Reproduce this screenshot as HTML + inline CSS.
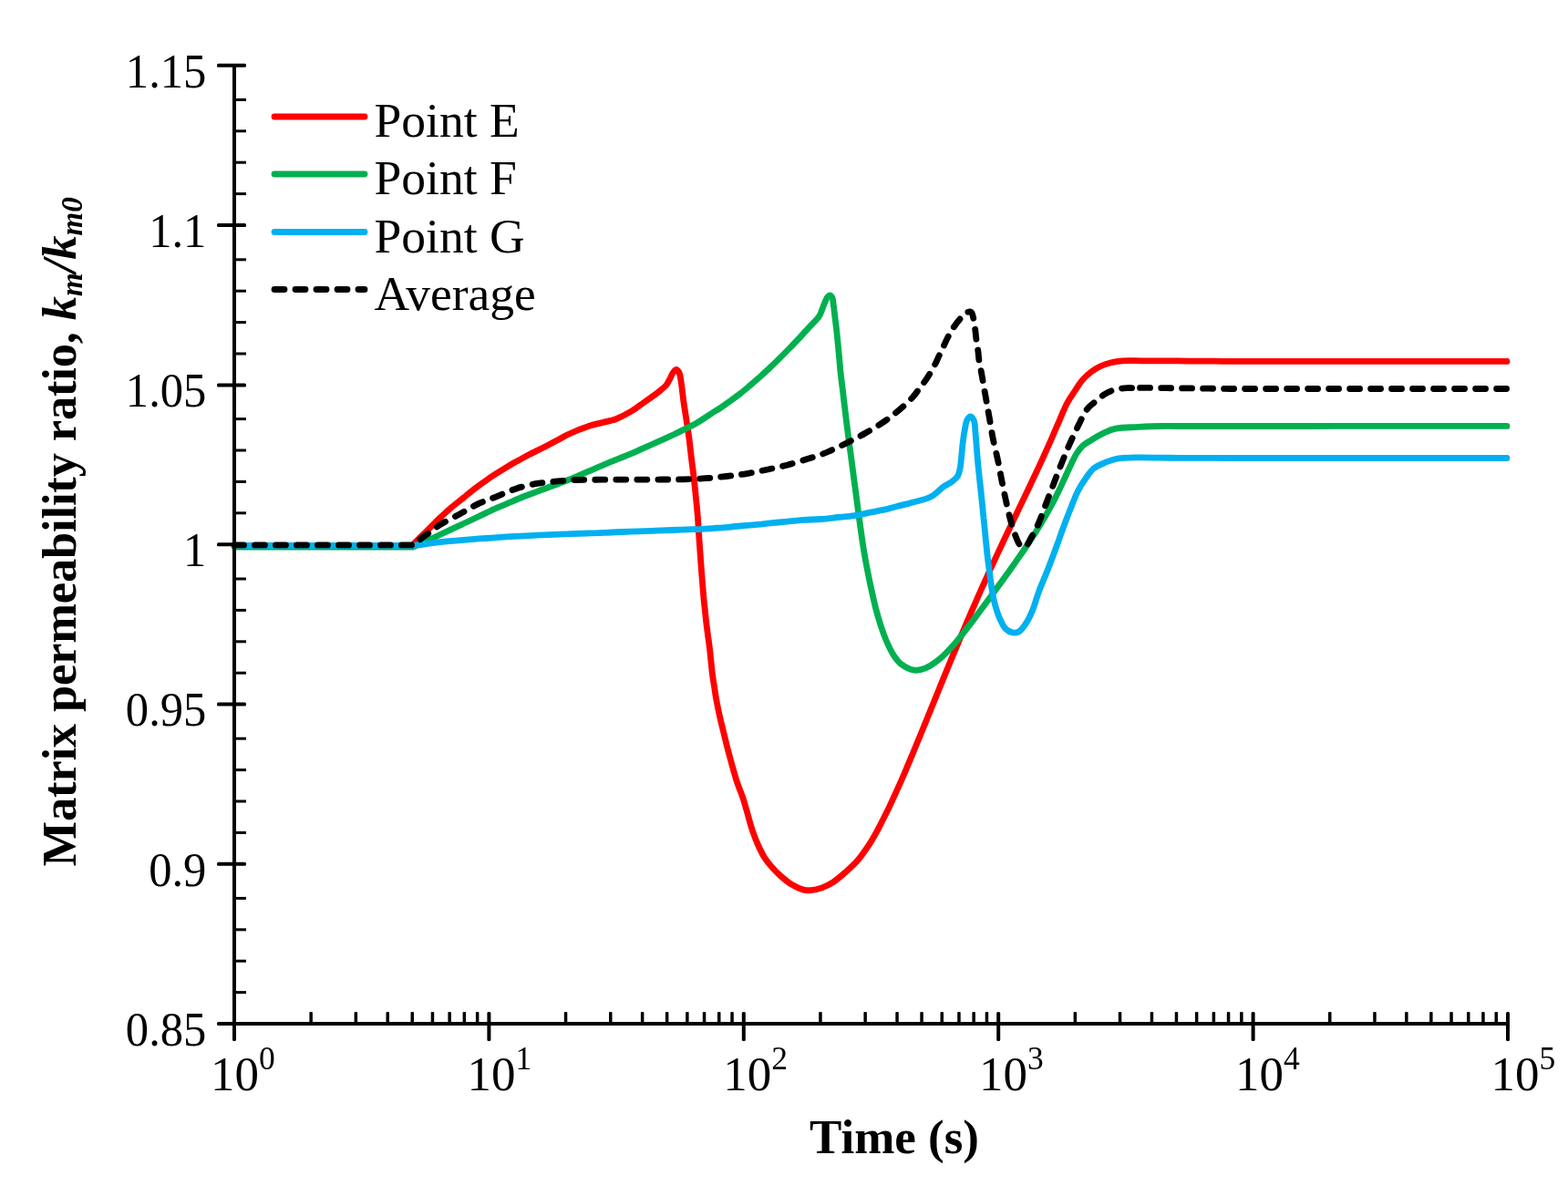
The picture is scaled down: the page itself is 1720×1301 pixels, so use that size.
<!DOCTYPE html>
<html><head><meta charset="utf-8"><title>Matrix permeability ratio</title>
<style>html,body{margin:0;padding:0;background:#fff;overflow:hidden}svg{display:block}</style>
</head><body>
<svg width="1720" height="1301" viewBox="0 0 1720 1301">
<rect width="1720" height="1301" fill="#fff"/>
<path d="M257.0 598.5C265.1 598.5 273.2 598.5 281.4 598.5C289.5 598.5 297.6 598.5 305.8 598.5C313.9 598.5 322.0 598.5 330.1 598.5C338.2 598.5 346.4 598.5 354.5 598.5C362.6 598.5 370.8 598.5 378.9 598.5C387.0 598.5 395.1 598.5 403.2 598.5C411.4 598.5 419.5 598.5 427.6 598.5C435.8 598.5 443.9 598.5 452.0 598.5C455.3 595.2 458.7 591.8 462.0 588.5C465.4 585.2 468.8 581.9 472.1 578.6C475.3 575.5 478.1 572.5 481.4 569.3C485.1 565.7 489.1 561.9 493.3 558.2C497.8 554.3 503.1 550.3 507.9 546.5C512.5 542.8 516.9 539.0 521.5 535.5C526.2 531.9 531.0 528.5 535.8 525.2C540.4 522.0 545.1 519.1 549.8 516.2C554.4 513.3 559.0 510.5 563.7 507.8C568.3 505.2 572.9 502.6 577.5 500.2C582.2 497.7 587.5 495.1 591.6 493.1C594.8 491.5 597.0 490.5 600.0 489.0C603.6 487.2 607.8 484.8 611.6 482.8C615.5 480.7 618.7 478.7 623.3 476.5C629.6 473.5 638.7 469.7 646.5 467.2C654.2 464.7 664.6 462.8 669.8 461.4C672.4 460.7 673.2 460.6 675.6 459.7C679.9 458.0 687.7 454.1 693.0 450.9C697.8 448.0 702.5 444.2 706.1 441.7C708.6 440.0 710.2 438.8 712.3 437.3C714.3 435.9 716.4 434.5 718.4 433.0C720.5 431.4 722.6 429.8 724.6 428.1C726.7 426.4 729.0 424.6 730.7 422.6C732.3 420.7 733.2 418.6 734.4 416.4C735.7 414.1 736.7 411.0 738.1 409.1C739.2 407.6 740.6 405.5 741.8 405.5C742.9 405.5 744.1 407.1 744.9 408.5C745.9 410.3 746.2 413.1 746.7 416.0C747.4 419.9 748.0 425.5 748.6 430.0C749.1 434.2 749.5 438.2 750.1 442.3C750.7 446.4 751.4 450.6 752.0 454.6C752.6 458.5 753.2 462.0 753.8 466.0C754.5 470.4 755.1 474.9 755.8 480.0C756.6 486.1 757.3 493.1 758.1 500.0C759.0 507.4 760.1 515.3 761.0 523.0C761.9 530.7 762.7 538.7 763.4 546.0C764.1 552.6 764.7 558.5 765.2 565.0C765.8 571.8 766.1 579.4 766.6 586.0C767.0 592.0 767.4 597.3 767.8 603.0C768.2 608.7 768.6 614.3 769.0 620.0C769.4 625.8 769.9 631.7 770.4 637.5C770.9 643.3 771.3 649.4 771.8 655.0C772.3 660.2 772.9 665.0 773.4 670.0C773.9 675.0 774.4 680.2 775.0 685.0C775.5 689.4 776.1 693.3 776.6 697.5C777.2 701.7 777.8 705.6 778.3 710.0C778.9 714.8 779.4 720.0 779.9 725.0C780.4 730.0 780.9 735.2 781.5 740.0C782.1 744.5 782.8 748.7 783.5 753.0C784.2 757.3 784.6 761.1 785.5 766.0C786.6 772.4 788.5 781.3 790.0 788.0C791.3 793.8 792.6 798.7 793.9 804.0C795.2 809.3 796.4 814.4 797.8 820.0C799.4 826.2 801.3 833.1 803.1 839.6C805.0 846.1 806.8 853.1 808.9 859.2C810.8 864.8 813.1 869.9 814.8 874.9C816.3 879.4 817.3 883.0 818.7 887.9C820.5 894.0 822.5 902.4 824.6 908.8C826.5 914.4 828.2 919.3 830.5 924.5C832.8 929.8 835.5 935.6 838.3 940.2C840.8 944.2 843.3 947.2 846.2 950.6C849.3 954.2 852.9 957.8 856.6 961.1C860.3 964.4 864.2 967.7 868.4 970.2C872.5 972.7 877.5 975.1 881.4 976.1C884.3 976.8 886.4 976.9 889.3 976.7C892.8 976.4 897.1 975.5 901.0 974.1C905.3 972.6 909.9 970.3 914.1 967.6C918.6 964.7 922.8 960.8 927.1 957.1C931.5 953.2 936.0 949.3 940.2 944.6C944.8 939.3 949.3 932.8 953.3 926.7C957.2 920.7 961.0 913.7 964.0 908.1C966.4 903.7 968.0 900.1 970.0 896.2C972.0 892.2 974.0 888.3 976.0 884.2C978.0 879.9 980.0 875.4 982.0 871.0C984.0 866.6 986.0 862.3 988.0 857.8C990.0 853.2 992.0 848.5 994.0 843.8C995.9 839.2 997.9 834.6 999.9 829.9C1001.9 825.1 1003.9 820.2 1005.9 815.3C1007.9 810.5 1009.9 805.7 1011.9 800.8C1013.9 795.9 1015.9 790.9 1017.9 786.0C1019.9 781.1 1021.9 776.1 1023.9 771.2C1025.9 766.3 1027.9 761.4 1029.9 756.5C1031.9 751.5 1033.8 746.8 1035.9 741.7C1038.2 736.2 1040.6 730.2 1043.0 724.4C1045.5 718.4 1048.1 712.3 1050.7 706.2C1053.2 700.1 1055.7 694.0 1058.3 688.0C1060.8 682.0 1063.4 676.2 1066.0 670.2C1068.6 664.3 1071.3 657.9 1073.7 652.5C1075.8 647.8 1077.6 643.9 1079.6 639.5C1081.5 635.2 1083.3 631.3 1085.4 626.6C1087.9 621.0 1091.0 614.5 1093.8 608.4C1096.6 602.4 1099.5 596.3 1102.3 590.3C1105.1 584.4 1107.9 578.6 1110.7 572.7C1113.5 566.8 1116.3 561.0 1119.2 554.9C1122.2 548.6 1125.5 541.8 1128.5 535.5C1131.4 529.5 1134.1 523.8 1136.9 517.8C1139.7 511.7 1142.6 505.6 1145.4 499.4C1148.2 493.2 1151.0 487.0 1153.8 480.6C1156.6 474.1 1159.5 467.3 1162.3 460.8C1165.1 454.4 1167.7 447.6 1170.7 442.0C1173.4 437.0 1176.5 432.8 1179.3 428.5C1181.9 424.6 1184.0 420.8 1186.9 417.4C1189.8 414.0 1193.3 410.7 1196.7 408.1C1199.9 405.7 1203.0 403.7 1206.6 402.0C1210.4 400.2 1214.8 398.7 1218.9 397.7C1223.0 396.7 1226.5 396.2 1231.2 395.8C1237.2 395.3 1245.1 395.8 1252.1 395.8C1259.1 395.8 1266.2 395.8 1273.0 395.8C1279.5 395.8 1285.8 395.9 1292.2 395.9C1298.7 396.0 1305.1 396.1 1311.5 396.1C1317.9 396.2 1324.3 396.2 1330.8 396.2C1337.2 396.3 1343.3 396.4 1350.0 396.4C1357.4 396.4 1365.5 396.4 1373.3 396.4C1381.1 396.4 1388.8 396.4 1396.6 396.4C1404.4 396.4 1412.2 396.4 1419.9 396.4C1427.7 396.4 1435.5 396.4 1443.2 396.4C1451.0 396.4 1458.8 396.4 1466.5 396.4C1474.3 396.4 1482.1 396.4 1489.8 396.4C1497.6 396.4 1505.4 396.4 1513.2 396.4C1520.9 396.4 1528.7 396.4 1536.5 396.4C1544.2 396.4 1552.0 396.4 1559.8 396.4C1567.5 396.4 1575.3 396.4 1583.1 396.4C1590.8 396.4 1598.6 396.4 1606.4 396.4C1614.2 396.4 1621.9 396.4 1629.7 396.4C1637.5 396.4 1645.2 396.4 1653.0 396.4" fill="none" stroke="#ff0000" stroke-width="6.8" stroke-linecap="round" stroke-linejoin="round"/>
<path d="M257.0 600.0C265.2 600.0 273.4 600.0 281.6 600.0C289.8 600.0 297.9 600.0 306.1 600.0C314.3 600.0 322.5 600.0 330.7 600.0C338.9 600.0 347.1 600.0 355.2 600.0C363.4 600.0 371.6 600.0 379.8 600.0C388.0 600.0 396.2 600.0 404.4 600.0C412.6 600.0 420.8 600.0 428.9 600.0C437.1 600.0 445.3 600.0 453.5 600.0C459.8 597.1 466.3 594.1 472.3 591.3C477.8 588.8 482.8 586.4 488.0 584.0C493.2 581.6 498.1 579.3 503.7 576.7C510.2 573.7 517.7 570.1 524.6 566.8C531.6 563.5 539.2 559.8 545.6 556.9C550.9 554.5 555.4 552.8 560.3 550.7C565.2 548.6 570.3 546.4 575.0 544.5C579.3 542.8 583.3 541.4 587.5 539.9C591.7 538.3 595.2 537.0 600.0 535.2C606.6 532.8 616.9 529.1 623.3 526.5C627.9 524.7 631.0 523.2 634.9 521.5C638.8 519.9 642.6 518.2 646.5 516.6C650.4 514.9 654.3 513.3 658.1 511.6C662.0 510.0 665.2 508.6 669.8 506.7C676.2 504.1 686.6 500.1 693.0 497.4C697.6 495.5 700.8 493.9 704.6 492.2C708.5 490.5 712.4 488.7 716.3 487.0C720.2 485.3 724.0 483.5 727.9 481.8C731.8 480.0 735.6 478.3 739.5 476.5C743.4 474.6 747.3 472.6 751.1 470.7C755.0 468.8 758.6 467.3 762.8 464.9C768.1 461.9 774.9 457.0 780.0 453.8C784.0 451.3 787.2 449.4 790.8 447.1C794.4 444.7 797.9 442.2 801.5 439.6C805.1 437.0 808.7 434.3 812.3 431.5C815.9 428.7 819.4 425.7 823.0 422.7C826.6 419.6 830.2 416.5 833.8 413.3C837.4 410.0 841.0 406.7 844.6 403.3C848.2 399.9 851.7 396.4 855.3 392.9C858.9 389.3 862.5 385.7 866.1 382.0C869.7 378.3 873.2 374.6 876.8 370.8C880.4 366.9 884.0 362.9 887.6 359.0C891.2 355.1 896.1 350.7 898.4 347.2C900.0 344.8 900.4 343.0 901.4 340.7C902.4 338.2 903.3 335.3 904.4 332.8C905.4 330.4 906.3 327.6 907.5 326.0C908.3 324.9 909.4 323.7 910.3 323.8C911.2 323.9 912.3 325.3 913.0 326.6C913.9 328.5 913.9 331.6 914.3 334.6C914.8 338.3 915.3 342.8 915.8 346.9C916.3 351.0 916.8 355.1 917.3 359.2C917.8 363.3 918.2 367.2 918.6 371.5C919.1 376.3 919.6 381.2 920.1 386.9C920.8 393.8 921.4 402.8 922.2 410.0C922.9 416.4 923.6 422.0 924.4 428.0C925.1 434.0 925.8 440.1 926.5 446.0C927.2 451.8 927.9 457.6 928.6 463.4C929.4 469.1 930.1 475.0 930.8 480.7C931.5 486.2 932.2 491.4 933.0 496.8C933.7 502.2 934.4 507.5 935.1 512.9C935.8 518.3 936.5 523.7 937.2 529.0C938.0 534.4 938.7 539.8 939.4 545.2C940.1 550.6 940.8 556.0 941.5 561.4C942.3 566.7 942.9 571.8 943.7 577.5C944.6 584.0 945.6 591.3 946.7 598.4C947.9 605.9 949.3 613.8 950.7 621.5C952.2 629.2 953.7 636.8 955.4 644.5C957.1 652.2 958.8 660.4 960.7 667.6C962.4 674.1 964.1 680.0 966.1 686.0C968.0 691.8 969.9 697.5 972.3 703.0C974.6 708.3 977.0 713.8 980.0 718.3C982.7 722.4 985.4 726.3 989.2 729.1C993.1 732.0 998.5 734.7 1003.0 735.2C1007.1 735.7 1011.1 734.6 1015.3 732.9C1020.3 730.9 1025.8 726.9 1030.7 722.9C1036.1 718.6 1041.4 712.6 1046.0 707.5C1050.1 703.0 1053.3 698.6 1057.0 694.0C1060.8 689.2 1065.0 683.7 1068.5 679.1C1071.5 675.1 1074.1 671.6 1076.9 667.8C1079.7 664.0 1082.6 660.1 1085.4 656.3C1088.2 652.5 1091.0 648.7 1093.8 644.8C1096.6 640.9 1099.5 636.9 1102.3 633.0C1105.1 629.1 1107.9 625.2 1110.7 621.3C1113.5 617.3 1116.4 613.3 1119.2 609.2C1122.0 605.2 1124.9 600.9 1127.5 597.0C1129.8 593.5 1131.8 590.5 1134.0 587.0C1136.4 583.2 1139.0 579.2 1141.5 575.0C1144.3 570.4 1147.2 565.4 1150.0 560.4C1152.9 555.2 1155.7 549.9 1158.5 544.4C1161.4 538.7 1164.2 532.6 1166.9 526.8C1169.5 521.1 1172.1 515.2 1174.6 510.0C1176.8 505.5 1178.6 501.2 1181.0 497.5C1183.1 494.3 1185.1 491.4 1187.7 489.0C1190.2 486.7 1192.8 485.3 1196.1 483.3C1200.4 480.6 1206.6 476.9 1211.5 474.6C1215.7 472.7 1218.9 471.2 1223.8 470.2C1230.5 468.8 1240.2 468.9 1248.4 468.4C1256.6 468.0 1264.9 467.6 1273.0 467.5C1281.0 467.4 1288.8 467.5 1296.8 467.5C1304.7 467.5 1312.6 467.5 1320.5 467.5C1328.4 467.5 1336.3 467.5 1344.2 467.5C1352.2 467.5 1360.1 467.5 1368.0 467.5C1375.9 467.5 1383.8 467.5 1391.8 467.5C1399.7 467.5 1407.6 467.5 1415.5 467.5C1423.4 467.5 1431.3 467.5 1439.2 467.5C1447.2 467.5 1455.1 467.5 1463.0 467.4C1470.9 467.4 1478.8 467.4 1486.8 467.4C1494.7 467.4 1502.6 467.4 1510.5 467.4C1518.4 467.4 1526.3 467.4 1534.2 467.4C1542.2 467.4 1550.1 467.4 1558.0 467.4C1565.9 467.4 1573.8 467.4 1581.8 467.4C1589.7 467.4 1597.6 467.4 1605.5 467.4C1613.4 467.4 1621.3 467.4 1629.2 467.4C1637.2 467.4 1645.1 467.4 1653.0 467.4" fill="none" stroke="#00b050" stroke-width="6.8" stroke-linecap="round" stroke-linejoin="round"/>
<path d="M257.0 598.3C265.2 598.3 273.5 598.3 281.7 598.3C289.9 598.3 298.1 598.3 306.4 598.3C314.6 598.3 322.8 598.3 331.1 598.3C339.3 598.3 347.5 598.3 355.8 598.3C364.0 598.3 372.2 598.3 380.4 598.3C388.7 598.3 396.9 598.3 405.1 598.3C413.4 598.3 421.6 598.3 429.8 598.3C438.0 598.3 446.3 598.3 454.5 598.3C458.5 597.8 462.1 597.4 466.5 596.8C472.0 596.1 479.3 595.0 485.1 594.4C490.3 593.8 494.9 593.5 499.8 593.1C504.6 592.7 509.2 592.2 514.4 591.8C520.2 591.3 526.8 590.9 533.0 590.5C539.2 590.1 545.4 589.6 551.6 589.2C557.8 588.8 564.0 588.5 570.2 588.2C576.4 587.8 582.6 587.4 588.8 587.1C595.0 586.8 601.2 586.6 607.4 586.4C613.6 586.1 619.8 585.8 626.0 585.6C632.2 585.4 638.4 585.2 644.6 585.0C650.9 584.7 657.1 584.5 663.3 584.3C669.5 584.1 675.7 583.8 681.9 583.5C688.1 583.3 694.3 583.0 700.5 582.8C706.7 582.6 712.9 582.4 719.1 582.1C725.3 581.9 731.7 581.7 737.7 581.5C743.3 581.3 748.5 581.1 754.0 580.9C759.4 580.7 765.0 580.6 770.2 580.3C775.0 580.0 779.5 579.6 784.1 579.3C788.7 579.0 793.4 578.7 798.0 578.3C802.7 577.9 807.3 577.5 812.0 577.0C816.7 576.6 821.3 576.2 826.0 575.8C830.7 575.4 835.3 574.9 840.0 574.4C844.7 573.9 849.3 573.5 854.0 573.0C858.7 572.6 863.3 572.1 868.0 571.7C872.6 571.3 876.9 570.8 881.9 570.4C887.5 570.0 893.9 570.0 900.0 569.5C906.2 569.0 912.4 568.2 918.6 567.5C924.8 566.9 931.0 566.5 937.2 565.6C943.4 564.6 949.6 563.1 955.8 561.9C962.0 560.6 968.7 559.4 974.4 558.1C979.4 556.9 983.7 555.6 988.3 554.4C993.0 553.2 997.3 552.1 1002.3 550.7C1008.1 549.1 1015.4 548.0 1020.9 545.1C1026.2 542.3 1030.6 537.0 1034.9 534.0C1038.2 531.7 1041.5 530.5 1044.2 528.4C1046.7 526.4 1049.2 524.4 1050.7 521.9C1052.1 519.5 1052.5 516.8 1053.1 513.8C1053.9 510.2 1054.1 505.8 1054.6 501.5C1055.1 496.7 1055.5 491.2 1056.1 486.1C1056.7 481.0 1057.5 475.3 1058.4 470.7C1059.1 467.0 1059.4 463.2 1060.7 460.8C1061.7 459.0 1063.3 456.8 1064.6 456.9C1065.9 457.0 1067.5 459.4 1068.4 461.5C1069.7 464.6 1069.5 469.8 1070.0 474.6C1070.6 480.4 1071.0 487.6 1071.5 493.8C1072.0 499.7 1072.4 505.0 1073.0 511.0C1073.6 517.5 1074.4 524.4 1075.2 531.5C1076.0 539.3 1077.1 549.2 1077.8 556.1C1078.3 561.0 1078.6 564.6 1079.0 568.8C1079.5 573.0 1079.9 577.3 1080.3 581.5C1080.7 585.7 1081.1 589.9 1081.5 594.1C1082.0 598.4 1082.3 602.1 1082.8 606.8C1083.5 612.8 1084.5 620.5 1085.4 627.1C1086.2 633.4 1086.9 639.7 1087.9 645.7C1088.9 651.5 1089.8 657.2 1091.3 662.6C1092.7 667.8 1094.3 673.1 1096.4 677.8C1098.3 682.1 1100.3 687.0 1103.1 689.7C1105.3 691.9 1108.2 693.4 1110.7 693.9C1113.0 694.3 1115.3 694.2 1117.5 693.0C1120.5 691.3 1123.5 686.7 1126.0 682.9C1128.6 678.9 1130.6 674.4 1132.7 669.4C1135.2 663.4 1136.9 656.0 1139.5 649.1C1142.3 641.7 1145.8 633.8 1148.8 626.2C1151.7 618.8 1154.9 610.4 1157.2 604.2C1158.9 599.7 1160.0 596.3 1161.5 592.4C1162.9 588.4 1164.0 585.0 1165.7 580.5C1168.0 574.3 1171.2 565.7 1174.1 558.5C1176.9 551.6 1179.5 544.2 1182.6 538.2C1185.2 533.1 1188.0 528.9 1191.0 524.7C1193.8 520.7 1196.5 516.5 1200.0 513.7C1203.4 511.0 1207.5 509.5 1211.5 507.8C1215.5 506.1 1218.9 504.5 1223.8 503.5C1230.5 502.1 1240.2 502.1 1248.4 501.9C1256.6 501.7 1265.3 502.1 1273.0 502.2C1279.8 502.3 1285.8 502.2 1292.2 502.3C1298.7 502.3 1305.1 502.3 1311.5 502.4C1317.9 502.4 1324.3 502.4 1330.8 502.4C1337.2 502.5 1343.3 502.5 1350.0 502.5C1357.4 502.5 1365.5 502.5 1373.3 502.5C1381.1 502.5 1388.8 502.5 1396.6 502.5C1404.4 502.5 1412.2 502.5 1419.9 502.5C1427.7 502.5 1435.5 502.5 1443.2 502.5C1451.0 502.5 1458.8 502.5 1466.5 502.5C1474.3 502.5 1482.1 502.5 1489.8 502.5C1497.6 502.5 1505.4 502.5 1513.2 502.5C1520.9 502.5 1528.7 502.5 1536.5 502.5C1544.2 502.5 1552.0 502.5 1559.8 502.5C1567.5 502.5 1575.3 502.5 1583.1 502.5C1590.8 502.5 1598.6 502.5 1606.4 502.5C1614.2 502.5 1621.9 502.5 1629.7 502.5C1637.5 502.5 1645.2 502.5 1653.0 502.5" fill="none" stroke="#00b0f0" stroke-width="6.8" stroke-linecap="round" stroke-linejoin="round"/>
<path d="M257.0 597.9C265.2 597.9 273.5 597.9 281.7 597.9C289.9 597.9 298.1 597.9 306.4 597.9C314.6 597.9 322.8 597.9 331.1 597.9C339.3 597.9 347.5 597.9 355.8 597.9C364.0 597.9 372.2 597.9 380.4 597.9C388.7 597.9 396.9 597.9 405.1 597.9C413.4 597.9 421.6 597.9 429.8 597.9C438.0 597.9 446.3 597.9 454.5 597.9C457.0 595.5 459.1 593.1 461.9 590.8C465.0 588.2 468.9 585.8 472.4 583.2C475.8 580.7 478.6 578.3 482.8 575.7C488.5 572.1 496.7 568.0 503.7 564.2C510.7 560.4 517.5 556.0 524.6 552.7C531.5 549.4 538.6 547.1 545.6 544.3C552.6 541.5 559.5 538.2 566.5 535.9C573.4 533.7 580.4 532.0 587.4 530.7C594.4 529.4 601.4 528.9 608.4 528.2C615.4 527.5 622.3 526.8 629.3 526.5C636.3 526.2 643.2 526.4 650.2 526.3C657.2 526.2 664.1 526.1 671.1 526.1C678.1 526.1 685.1 526.1 692.0 526.1C699.0 526.1 706.3 526.1 713.0 526.1C719.3 526.1 725.1 526.0 731.1 526.0C737.2 525.9 742.8 526.0 749.3 525.8C756.8 525.6 765.5 525.3 773.5 524.7C781.4 524.2 789.2 523.4 796.9 522.5C804.4 521.7 811.7 520.8 819.0 519.6C826.4 518.4 833.7 516.8 841.1 515.2C848.5 513.6 855.9 512.1 863.3 510.2C870.7 508.3 878.8 505.6 885.4 503.6C890.8 501.9 895.8 500.4 900.0 498.9C903.2 497.7 905.1 497.0 908.5 495.5C913.8 493.2 922.0 489.3 928.7 486.0C935.5 482.6 942.4 479.1 949.0 475.3C955.6 471.5 962.3 467.7 968.5 463.4C974.7 459.2 980.6 454.6 986.2 449.9C991.6 445.3 997.3 440.0 1001.4 435.5C1004.6 432.0 1006.5 428.7 1009.0 425.4C1011.6 422.0 1014.2 419.0 1016.7 415.2C1019.7 410.7 1023.2 404.6 1025.5 400.1C1027.3 396.7 1028.3 394.1 1029.8 390.9C1031.4 387.5 1033.1 383.9 1034.8 380.4C1036.4 376.9 1037.9 373.4 1039.7 370.0C1041.6 366.5 1043.6 362.9 1045.8 359.5C1048.1 356.1 1050.7 352.6 1053.2 349.7C1055.4 347.1 1057.6 343.9 1060.0 342.8C1061.8 342.0 1064.3 341.7 1065.5 342.5C1066.7 343.3 1066.7 345.2 1067.3 347.2C1068.3 350.7 1069.2 357.4 1069.8 362.0C1070.3 365.9 1070.5 369.2 1071.0 373.0C1071.5 377.0 1072.4 381.3 1072.9 385.3C1073.4 389.1 1073.5 392.7 1074.1 396.4C1074.7 400.1 1075.5 403.4 1076.3 407.5C1077.2 412.6 1078.3 418.8 1079.3 424.5C1080.3 430.2 1081.3 435.8 1082.3 441.5C1083.3 447.1 1084.2 452.3 1085.3 458.4C1086.6 465.6 1087.8 474.2 1089.4 482.0C1091.0 489.8 1093.1 497.7 1094.7 505.4C1096.2 512.8 1097.5 520.1 1098.9 527.3C1100.3 534.2 1101.6 540.7 1103.1 547.6C1104.7 554.8 1106.3 562.6 1108.2 569.6C1110.0 576.1 1112.0 583.0 1114.1 588.2C1115.7 592.2 1117.3 596.6 1119.2 598.4C1120.3 599.4 1121.4 600.0 1122.5 600.0C1123.6 600.0 1124.9 599.5 1126.0 598.5C1127.8 596.9 1129.2 593.2 1131.0 590.0C1133.3 585.8 1136.1 580.9 1138.6 575.5C1141.5 569.0 1144.3 560.8 1147.1 553.5C1149.9 546.2 1152.7 538.8 1155.5 531.5C1158.3 524.2 1161.1 516.7 1164.0 509.5C1166.8 502.6 1169.4 496.1 1172.4 489.2C1175.6 482.0 1179.1 474.2 1182.6 467.2C1185.9 460.7 1189.2 453.1 1192.7 448.6C1195.1 445.5 1197.2 444.2 1200.0 441.8C1203.3 438.9 1207.4 435.2 1211.5 432.7C1215.4 430.3 1219.6 428.4 1223.8 427.2C1227.8 426.1 1232.4 425.8 1236.1 425.6C1239.1 425.4 1241.6 425.6 1244.4 425.6" fill="none" stroke="#000" stroke-width="6.8" stroke-linecap="round" stroke-linejoin="round" stroke-dasharray="11 12" stroke-dashoffset="0.5"/>
<path d="M1244.4 425.6C1248.2 425.5 1251.3 425.4 1255.8 425.4C1262.2 425.4 1271.5 425.6 1279.3 425.7C1287.2 425.8 1295.0 425.9 1302.9 425.9C1310.7 426.0 1318.6 426.1 1326.5 426.2C1334.3 426.3 1342.2 426.5 1350.0 426.5C1357.8 426.5 1365.5 426.5 1373.3 426.5C1381.1 426.5 1388.8 426.5 1396.6 426.5C1404.4 426.5 1412.2 426.5 1419.9 426.5C1427.7 426.5 1435.5 426.5 1443.2 426.5C1451.0 426.5 1458.8 426.5 1466.5 426.5C1474.3 426.5 1482.1 426.5 1489.8 426.5C1497.6 426.5 1505.4 426.5 1513.2 426.5C1520.9 426.5 1528.7 426.5 1536.5 426.5C1544.2 426.5 1552.0 426.5 1559.8 426.5C1567.5 426.5 1575.3 426.5 1583.1 426.5C1590.8 426.5 1598.6 426.5 1606.4 426.5C1614.2 426.5 1621.9 426.5 1629.7 426.5C1637.5 426.5 1645.2 426.5 1653.0 426.5" fill="none" stroke="#000" stroke-width="6.8" stroke-linecap="round" stroke-linejoin="round" stroke-dasharray="11 12" stroke-dashoffset="16.8"/>
<g fill="#000">
<rect x="255" y="70" width="4" height="1055"/>
<rect x="255" y="1121" width="1400" height="4"/>
<rect x="238" y="69.8" width="32" height="4" rx="1.5"/>
<rect x="238" y="245.0" width="32" height="4" rx="1.5"/>
<rect x="238" y="420.4" width="32" height="4" rx="1.5"/>
<rect x="238" y="595.2" width="32" height="4" rx="1.5"/>
<rect x="238" y="770.6" width="32" height="4" rx="1.5"/>
<rect x="238" y="945.8" width="32" height="4" rx="1.5"/>
<rect x="238" y="1121.0" width="32" height="4" rx="1.5"/>
<rect x="257" y="211.1" width="13" height="3"/>
<rect x="257" y="176.7" width="13" height="3"/>
<rect x="257" y="142.3" width="13" height="3"/>
<rect x="257" y="107.9" width="13" height="3"/>
<rect x="257" y="386.5" width="13" height="3"/>
<rect x="257" y="352.1" width="13" height="3"/>
<rect x="257" y="317.7" width="13" height="3"/>
<rect x="257" y="283.3" width="13" height="3"/>
<rect x="257" y="561.3" width="13" height="3"/>
<rect x="257" y="526.9" width="13" height="3"/>
<rect x="257" y="492.5" width="13" height="3"/>
<rect x="257" y="458.1" width="13" height="3"/>
<rect x="257" y="736.7" width="13" height="3"/>
<rect x="257" y="702.3" width="13" height="3"/>
<rect x="257" y="667.9" width="13" height="3"/>
<rect x="257" y="633.5" width="13" height="3"/>
<rect x="257" y="911.9" width="13" height="3"/>
<rect x="257" y="877.5" width="13" height="3"/>
<rect x="257" y="843.1" width="13" height="3"/>
<rect x="257" y="808.7" width="13" height="3"/>
<rect x="257" y="1087.1" width="13" height="3"/>
<rect x="257" y="1052.7" width="13" height="3"/>
<rect x="257" y="1018.3" width="13" height="3"/>
<rect x="257" y="983.9" width="13" height="3"/>
<rect x="255.0" y="1110" width="4" height="32" rx="1.5"/>
<rect x="534.4" y="1110" width="4" height="32" rx="1.5"/>
<rect x="813.8" y="1110" width="4" height="32" rx="1.5"/>
<rect x="1093.2" y="1110" width="4" height="32" rx="1.5"/>
<rect x="1372.6" y="1110" width="4" height="32" rx="1.5"/>
<rect x="1652.0" y="1110" width="4" height="32" rx="1.5"/>
<rect x="339.4" y="1110" width="3.5" height="13" rx="1"/>
<rect x="388.6" y="1110" width="3.5" height="13" rx="1"/>
<rect x="423.5" y="1110" width="3.5" height="13" rx="1"/>
<rect x="450.5" y="1110" width="3.5" height="13" rx="1"/>
<rect x="472.7" y="1110" width="3.5" height="13" rx="1"/>
<rect x="491.4" y="1110" width="3.5" height="13" rx="1"/>
<rect x="507.6" y="1110" width="3.5" height="13" rx="1"/>
<rect x="521.9" y="1110" width="3.5" height="13" rx="1"/>
<rect x="618.8" y="1110" width="3.5" height="13" rx="1"/>
<rect x="668.0" y="1110" width="3.5" height="13" rx="1"/>
<rect x="702.9" y="1110" width="3.5" height="13" rx="1"/>
<rect x="729.9" y="1110" width="3.5" height="13" rx="1"/>
<rect x="752.1" y="1110" width="3.5" height="13" rx="1"/>
<rect x="770.8" y="1110" width="3.5" height="13" rx="1"/>
<rect x="787.0" y="1110" width="3.5" height="13" rx="1"/>
<rect x="801.3" y="1110" width="3.5" height="13" rx="1"/>
<rect x="898.2" y="1110" width="3.5" height="13" rx="1"/>
<rect x="947.4" y="1110" width="3.5" height="13" rx="1"/>
<rect x="982.3" y="1110" width="3.5" height="13" rx="1"/>
<rect x="1009.3" y="1110" width="3.5" height="13" rx="1"/>
<rect x="1031.5" y="1110" width="3.5" height="13" rx="1"/>
<rect x="1050.2" y="1110" width="3.5" height="13" rx="1"/>
<rect x="1066.4" y="1110" width="3.5" height="13" rx="1"/>
<rect x="1080.7" y="1110" width="3.5" height="13" rx="1"/>
<rect x="1177.6" y="1110" width="3.5" height="13" rx="1"/>
<rect x="1226.8" y="1110" width="3.5" height="13" rx="1"/>
<rect x="1261.7" y="1110" width="3.5" height="13" rx="1"/>
<rect x="1288.7" y="1110" width="3.5" height="13" rx="1"/>
<rect x="1310.9" y="1110" width="3.5" height="13" rx="1"/>
<rect x="1329.6" y="1110" width="3.5" height="13" rx="1"/>
<rect x="1345.8" y="1110" width="3.5" height="13" rx="1"/>
<rect x="1360.1" y="1110" width="3.5" height="13" rx="1"/>
<rect x="1457.0" y="1110" width="3.5" height="13" rx="1"/>
<rect x="1506.2" y="1110" width="3.5" height="13" rx="1"/>
<rect x="1541.1" y="1110" width="3.5" height="13" rx="1"/>
<rect x="1568.1" y="1110" width="3.5" height="13" rx="1"/>
<rect x="1590.3" y="1110" width="3.5" height="13" rx="1"/>
<rect x="1609.0" y="1110" width="3.5" height="13" rx="1"/>
<rect x="1625.2" y="1110" width="3.5" height="13" rx="1"/>
<rect x="1639.5" y="1110" width="3.5" height="13" rx="1"/>
</g>
<g font-family="'Liberation Serif', serif" font-size="53" fill="#000" text-anchor="end">
<text transform="translate(226.4 95.6) scale(0.955 1)">1.15</text>
<text transform="translate(226.4 270.8) scale(0.955 1)">1.1</text>
<text transform="translate(226.4 446.2) scale(0.955 1)">1.05</text>
<text transform="translate(226.4 621.0) scale(0.955 1)">1</text>
<text transform="translate(226.4 796.4) scale(0.955 1)">0.95</text>
<text transform="translate(226.4 971.6) scale(0.955 1)">0.9</text>
<text transform="translate(226.4 1146.8) scale(0.955 1)">0.85</text>
</g>
<g font-family="'Liberation Serif', serif" font-size="53" fill="#000">
<text x="231.0" y="1196">10<tspan font-size="35.5" dy="-23">0</tspan></text>
<text x="512.5" y="1196">10<tspan font-size="35.5" dy="-23">1</tspan></text>
<text x="793.3" y="1196">10<tspan font-size="35.5" dy="-23">2</tspan></text>
<text x="1074.1" y="1196">10<tspan font-size="35.5" dy="-23">3</tspan></text>
<text x="1354.9" y="1196">10<tspan font-size="35.5" dy="-23">4</tspan></text>
<text x="1635.4" y="1196">10<tspan font-size="35.5" dy="-23">5</tspan></text>
</g>
<text x="981" y="1265" font-family="'Liberation Serif', serif" font-size="53" font-weight="bold" text-anchor="middle">Time (s)</text>
<text transform="translate(82.5 950.5) rotate(-90)" font-family="'Liberation Serif', serif" font-size="52.5" font-weight="bold"><tspan letter-spacing="-0.16">Matrix permeability ratio, </tspan><tspan font-style="italic">k</tspan><tspan font-style="italic" font-size="33" dy="7">m</tspan><tspan font-style="italic" dy="-7">/k</tspan><tspan font-style="italic" font-size="33" dy="7">m0</tspan></text>
<path d="M301 128.0 H400" stroke="#ff0000" stroke-width="6.8" stroke-linecap="round" fill="none"/>
<text transform="translate(410.5 150.0) scale(1.03 1)" font-family="'Liberation Serif', serif" font-size="52">Point E</text>
<path d="M301 191.0 H400" stroke="#00b050" stroke-width="6.8" stroke-linecap="round" fill="none"/>
<text transform="translate(410.5 213.0) scale(1.03 1)" font-family="'Liberation Serif', serif" font-size="52">Point F</text>
<path d="M301 254.5 H400" stroke="#00b0f0" stroke-width="6.8" stroke-linecap="round" fill="none"/>
<text transform="translate(410.5 276.5) scale(1.03 1)" font-family="'Liberation Serif', serif" font-size="52">Point G</text>
<path d="M301 317.5 H400" stroke="#000" stroke-width="6.8" stroke-linecap="round" fill="none" stroke-dasharray="11 12"/>
<text transform="translate(410.5 339.5) scale(1.03 1)" font-family="'Liberation Serif', serif" font-size="52">Average</text>
</svg>
</body></html>
